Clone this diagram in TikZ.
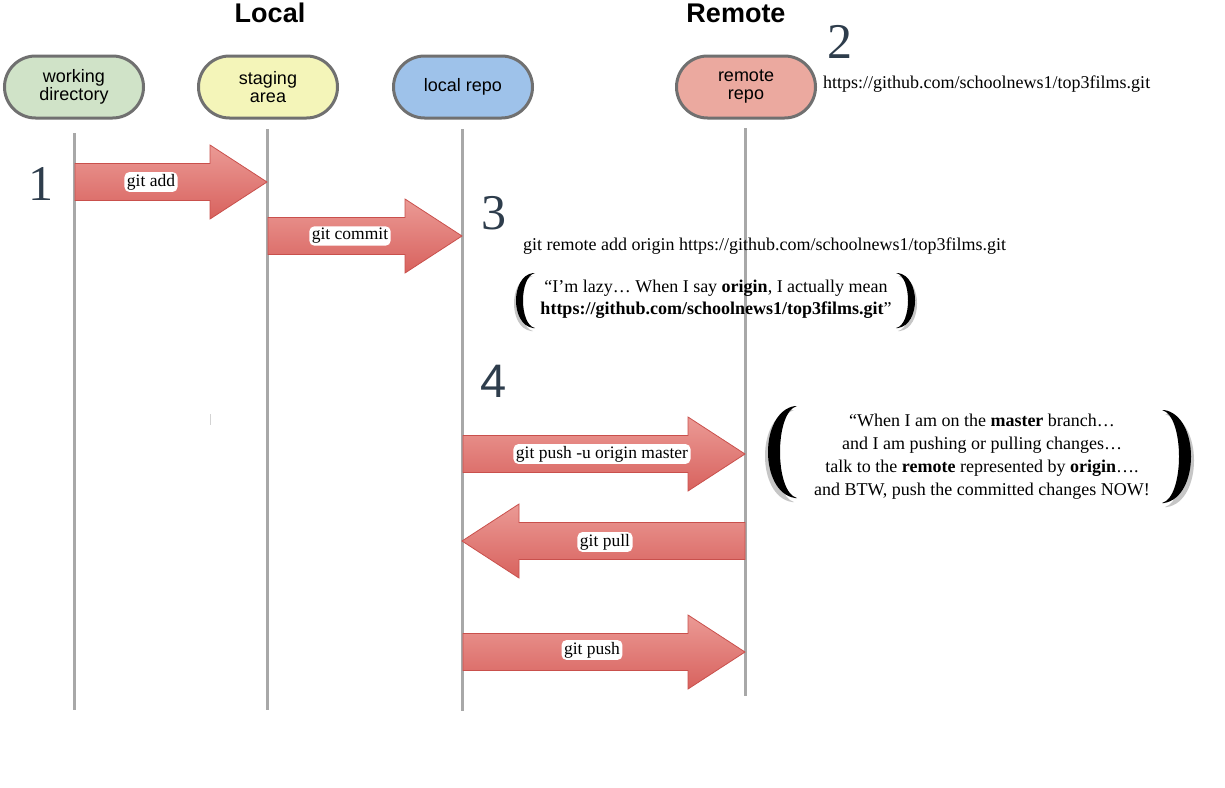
\documentclass[tikz,border=0pt]{standalone}
\usepackage{fontspec}
\setmainfont{Liberation Serif}
\setsansfont{Liberation Sans}
\usetikzlibrary{calc,shapes.misc}

\definecolor{pillgray}{HTML}{707070}
\definecolor{lifegray}{HTML}{A8A8A8}
\definecolor{wdfill}{HTML}{D0E3C8}
\definecolor{safill}{HTML}{F4F5B9}
\definecolor{lrfill}{HTML}{9EC2EA}
\definecolor{rrfill}{HTML}{EBA99F}
\definecolor{arrtop}{HTML}{EB9A95}
\definecolor{arrbot}{HTML}{D8625E}
\definecolor{arrborder}{HTML}{C9504C}
\definecolor{numcol}{HTML}{2E3D4C}

\tikzset{
  pill/.style={rounded rectangle, draw=pillgray, line width=3pt, minimum width=139pt,
    minimum height=62pt, align=center, inner sep=0pt,
    font=\sffamily\fontsize{18}{20}\selectfont},
  lifeline/.style={draw=lifegray, line width=3pt},
  fatshade/.style={top color=arrtop, bottom color=arrbot, draw=arrborder, line width=0.8pt},
  serif/.style={font=\fontsize{18}{22}\selectfont, inner sep=0pt},
  lbl/.style={font=\fontsize{17.5}{20}\selectfont, fill=white, rounded corners=5pt,
    inner xsep=2.5pt, inner ysep=2pt},
  num/.style={font=\fontsize{50}{50}\selectfont, text=numcol, inner sep=0pt},
  title/.style={font=\sffamily\bfseries\fontsize{27}{30}\selectfont, inner sep=0pt},
}

% fat arrow between two named coordinates, #3 = 1 (to the right) or -1 (to the left)
\newcommand{\fatarrow}[3]{%
  \path[fatshade] ($(#1)+(0,-18.5)$) -- ($(#2)+({-57*#3},-18.5)$) -- ($(#2)+({-57*#3},-37)$)
    -- (#2) -- ($(#2)+({-57*#3},37)$) -- ($(#2)+({-57*#3},18.5)$) -- ($(#1)+(0,18.5)$) -- cycle;}

% left parenthesis: colour, x of ends, y top, y bottom, depth, thickness
\newcommand{\lparen}[6]{%
  \fill[#1] (#2,#3) .. controls ({#2-#5/0.75},{#3+(#4-#3)*0.06}) and ({#2-#5/0.75},{#4-(#4-#3)*0.06}) .. (#2,#4)
    -- ({#2+2},#4) .. controls ({#2+2-(#5-#6+2)/0.75},{#4-(#4-#3)*0.06}) and ({#2+2-(#5-#6+2)/0.75},{#3+(#4-#3)*0.06}) .. ({#2+2},#3) -- cycle;}
% right parenthesis
\newcommand{\rparen}[6]{%
  \fill[#1] (#2,#3) .. controls ({#2+#5/0.75},{#3+(#4-#3)*0.06}) and ({#2+#5/0.75},{#4-(#4-#3)*0.06}) .. (#2,#4)
    -- ({#2-2},#4) .. controls ({#2-2+(#5-#6+2)/0.75},{#4-(#4-#3)*0.06}) and ({#2-2+(#5-#6+2)/0.75},{#3+(#4-#3)*0.06}) .. ({#2-2},#3) -- cycle;}

\begin{document}
\begin{tikzpicture}[x=1pt,y=-1pt]
\useasboundingbox (0,0) rectangle (1225,787);
\fill[white] (0,0) rectangle (1225,787);

% titles
\node[title, anchor=base] (tlocal) at (270,23) {Local};
\node[title, anchor=base] (tremote) at (736,23) {Remote};

% lifelines
\coordinate (wdT) at (74,133);  \coordinate (wdB) at (74,710);
\coordinate (saT) at (267,129); \coordinate (saB) at (267,710);
\coordinate (lrT) at (462,129); \coordinate (lrB) at (462,711);
\coordinate (rrT) at (745,128); \coordinate (rrB) at (745,696);
\draw[lifeline] (wdT) -- (wdB);
\draw[lifeline] (saT) -- (saB);
\draw[lifeline] (lrT) -- (lrB);
\draw[lifeline] (rrT) -- (rrB);
\coordinate (tickA) at (210,414); \coordinate (tickB) at (210,425);
\draw[lifegray!50, line width=0.8pt] (tickA) -- (tickB);

% pills
\node[pill, fill=wdfill] (wd) at (74,87) {working\\[-2pt]directory};
\node[pill, fill=safill] (sa) at (268,87) {staging\\[-2pt]area};
\node[pill, fill=lrfill] (lr) at (463,87) {local repo};
\node[pill, fill=rrfill] (rr) at (746,87) {remote\\[-2pt]repo};

% numbers
\node[num, anchor=base] (n1) at (41,200) {1};
\node[num, anchor=base] (n2) at (840,58) {2};
\node[num, anchor=base] (n3) at (494,229) {3};
\node[num, font=\sffamily\fontsize{47}{47}\selectfont, anchor=base] (n4) at (494,397) {4};

% url
\node[serif, anchor=base west] (url) at (823,88) {https://github.com/schoolnews1/top3films.git};

% arrows
\coordinate (a1s) at (75,182);  \coordinate (a1e) at (267,182);
\coordinate (a2s) at (268,236); \coordinate (a2e) at (462,236);
\coordinate (a3s) at (463,454); \coordinate (a3e) at (745,454);
\coordinate (a4s) at (745,541); \coordinate (a4e) at (462,541);
\coordinate (a5s) at (463,652); \coordinate (a5e) at (745,652);
\fatarrow{a1s}{a1e}{1}
\fatarrow{a2s}{a2e}{1}
\fatarrow{a3s}{a3e}{1}
\fatarrow{a4s}{a4e}{-1}
\fatarrow{a5s}{a5e}{1}
\node[lbl] (l1) at (151,182) {git add};
\node[lbl] (l2) at (350,236) {git commit};
\node[lbl] (l3) at (602,454) {git push -u origin master};
\node[lbl] (l4) at (605,542) {git pull};
\node[lbl] (l5) at (592,650) {git push};

% step 3 text
\node[serif, anchor=base west] (remadd) at (523,250) {git remote add origin https://github.com/schoolnews1/top3films.git};

% parenthesis 1
\lparen{gray!45}{531}{276}{331}{17}{7}
\lparen{black}{533}{273}{328}{17}{7}
\rparen{gray!45}{900}{276}{331}{17}{7}
\rparen{black}{898}{273}{328}{17}{7}
\node[serif, align=center, font=\fontsize{18}{22}\selectfont] (p1) at (716,299)
  {“I’m lazy… When I say \textbf{origin}, I actually mean\\\textbf{https://github.com/schoolnews1/top3films.git}”};

% parenthesis 2
\lparen{gray!45}{792}{410}{502}{27}{12}
\lparen{black}{795}{406}{498}{27}{12}
\rparen{gray!45}{1167}{414}{507}{27}{12}
\rparen{black}{1164}{410}{503}{27}{12}
\node[serif, align=center, font=\fontsize{18}{23}\selectfont] (p2) at (982,457)
  {“When I am on the \textbf{master} branch…\\and I am pushing or pulling changes…\\talk to the \textbf{remote} represented by \textbf{origin}….\\and BTW, push the committed changes NOW!};
\end{tikzpicture}
\end{document}
